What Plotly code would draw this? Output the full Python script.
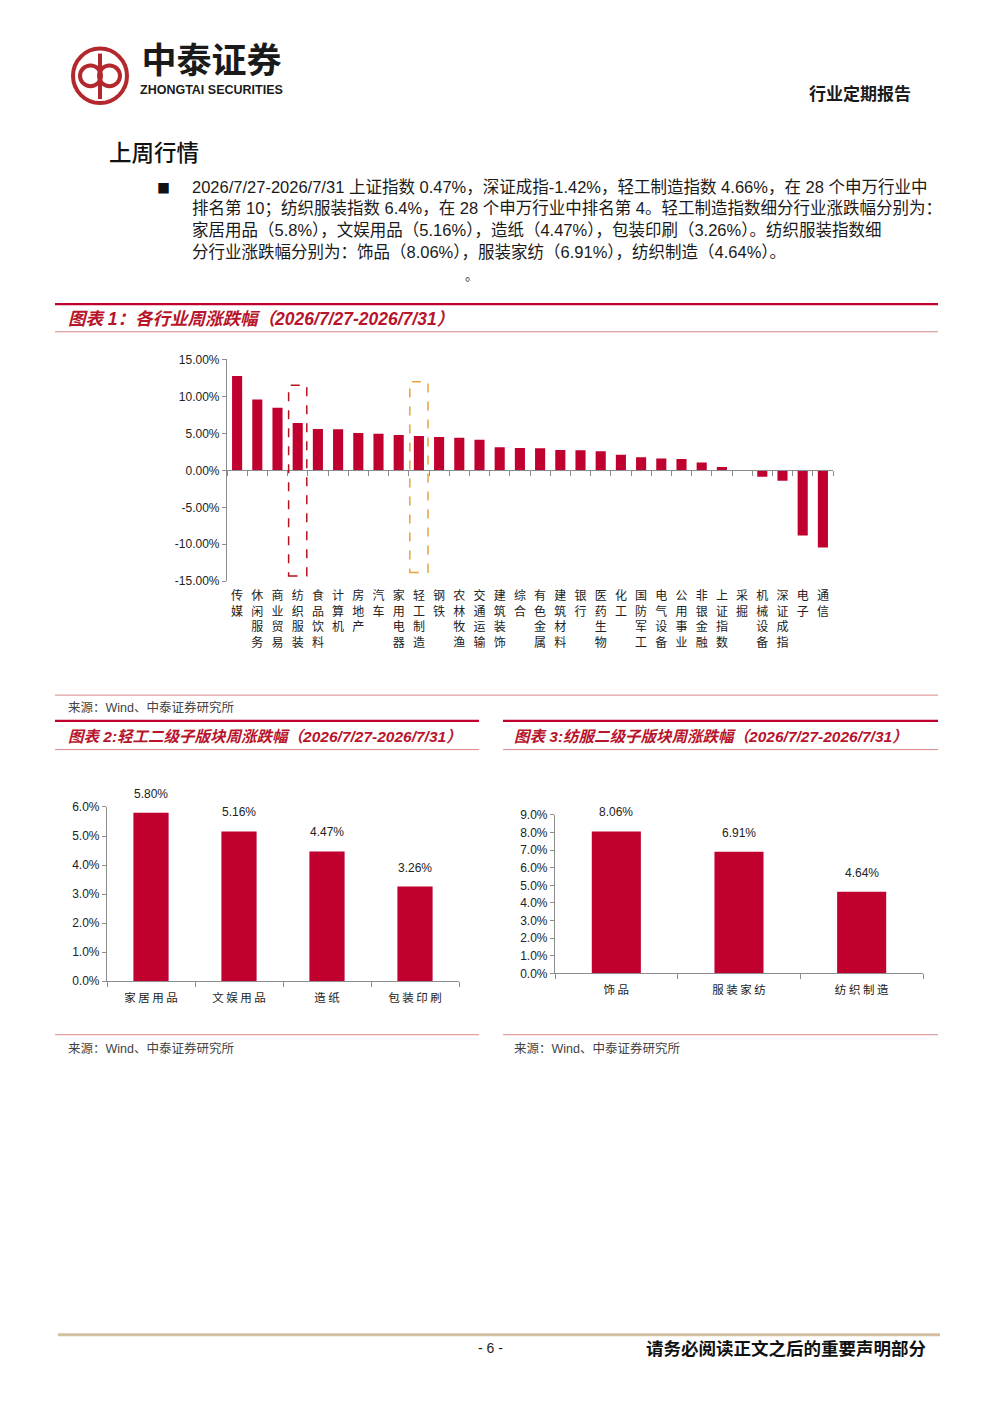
import plotly.graph_objects as go

W, H = 1000, 1413
def px(x):
    return x / W
def py(y):
    return 1 - y / H

# ---------------- data ----------------
industries = ["传媒", "休闲服务", "商业贸易", "纺织服装", "食品饮料", "计算机", "房地产", "汽车",
              "家用电器", "轻工制造", "钢铁", "农林牧渔", "交通运输", "建筑装饰", "综合", "有色金属",
              "建筑材料", "银行", "医药生物", "化工", "国防军工", "电气设备", "公用事业", "非银金融",
              "上证指数", "采掘", "机械设备", "深证成指", "电子", "通信"]
industry_change = [12.77, 9.60, 8.48, 6.40, 5.58, 5.56, 5.04, 4.96, 4.78, 4.66, 4.52, 4.42,
                   4.15, 3.13, 3.04, 3.00, 2.77, 2.72, 2.59, 2.10, 1.79, 1.60, 1.52, 1.07,
                   0.47, 0.00, -0.85, -1.42, -8.80, -10.45]
main_ticks = [-15, -10, -5, 0, 5, 10, 15]

light_sub = ["家居用品", "文娱用品", "造纸", "包装印刷"]
light_change = [5.80, 5.16, 4.47, 3.26]
light_ticks = [0, 1, 2, 3, 4, 5, 6]

textile_sub = ["饰品", "服装家纺", "纺织制造"]
textile_change = [8.06, 6.91, 4.64]
textile_ticks = [0, 1, 2, 3, 4, 5, 6, 7, 8, 9]

# highlight boxes: (category, top, bottom)
box_textile = ("纺织服装", 11.5, -14.3)
box_light = ("轻工制造", 12.0, -13.8)

body_lines = [
    "2026/7/27-2026/7/31 上证指数 0.47%，深证成指-1.42%，轻工制造指数 4.66%，在 28 个申万行业中",
    "排名第 10；纺织服装指数 6.4%，在 28 个申万行业中排名第 4。轻工制造指数细分行业涨跌幅分别为：",
    "家居用品（5.8%），文娱用品（5.16%），造纸（4.47%），包装印刷（3.26%）。纺织服装指数细",
    "分行业涨跌幅分别为：饰品（8.06%），服装家纺（6.91%），纺织制造（4.64%）。",
]

# ---------------- styles ----------------
FONT = "Liberation Sans, Noto Sans CJK SC, sans-serif"
CJK = "Noto Sans CJK SC, sans-serif"
BAR = "#C0002F"
AX = "#8C8C8C"
TXT = "#333333"
TITLE_RED = "#B8142B"

fig = go.Figure()

# main chart
fig.add_trace(go.Bar(x=industries, y=industry_change, xaxis="x", yaxis="y",
                     marker=dict(color=BAR, line=dict(width=0)), width=0.5,
                     showlegend=False, hoverinfo="x+y"))
fig.add_trace(go.Scatter(x=industries, y=industry_change, xaxis="x4", yaxis="y",
                         mode="markers", marker=dict(opacity=0), showlegend=False,
                         hoverinfo="skip"))
# chart 2
fig.add_trace(go.Bar(x=light_sub, y=light_change, xaxis="x2", yaxis="y2",
                     marker=dict(color=BAR, line=dict(width=0)), width=0.4,
                     showlegend=False))
# chart 3
fig.add_trace(go.Bar(x=textile_sub, y=textile_change, xaxis="x3", yaxis="y3",
                     marker=dict(color=BAR, line=dict(width=0)), width=0.4,
                     showlegend=False))

vert_labels = ["<br>".join(list(c)) for c in industries]

fig.update_layout(
    width=W, height=H, margin=dict(l=0, r=0, t=0, b=0),
    paper_bgcolor="white", plot_bgcolor="white",
    font=dict(family=FONT, color=TXT),
    showlegend=False,
    xaxis=dict(domain=[px(227), px(833)], anchor="y", type="category",
               categoryorder="array", categoryarray=industries,
               range=[-0.5, len(industries) - 0.5],
               tickvals=industries, ticktext=vert_labels, tickangle=0,
               ticks="", showline=False, showgrid=False, zeroline=False,
               tickfont=dict(family=CJK, size=12, color="#222"),
               ticklabelstandoff=6, fixedrange=True),
    xaxis4=dict(overlaying="x", anchor="free", position=py(468), type="category",
                categoryorder="array", categoryarray=industries,
                range=[-0.5, len(industries) - 0.5],
                showticklabels=False, ticks="outside", ticklen=5, tickcolor=AX,
                tickson="boundaries", showline=True, linecolor=AX, linewidth=1.2,
                showgrid=False, zeroline=False, fixedrange=True),
    yaxis=dict(domain=[py(580), py(356)], anchor="x", range=[-15, 15],
               tickvals=main_ticks, ticktext=["%.2f%%" % v for v in main_ticks],
               ticks="outside", ticklen=4, tickcolor=AX, showline=True,
               linecolor=AX, linewidth=1.2, showgrid=False, zeroline=False,
               tickfont=dict(size=12, color="#222"), fixedrange=True),
    xaxis2=dict(domain=[px(107), px(459)], anchor="y2", type="category",
                categoryorder="array", categoryarray=light_sub,
                tickvals=light_sub, ticktext=[" ".join(list(c)) for c in light_sub],
                ticks="outside", ticklen=5, tickcolor=AX, tickson="boundaries",
                showline=True, linecolor=AX, linewidth=1.2, showgrid=False,
                tickfont=dict(family=CJK, size=11.5, color="#222"),
                ticklabelstandoff=6, fixedrange=True),
    yaxis2=dict(domain=[py(984), py(808)], anchor="x2", range=[0, 6],
                tickvals=light_ticks, ticktext=["%.1f%%" % v for v in light_ticks],
                ticks="outside", ticklen=4, tickcolor=AX, showline=True,
                linecolor=AX, linewidth=1.2, showgrid=False, zeroline=False,
                tickfont=dict(size=12, color="#222"), fixedrange=True),
    xaxis3=dict(domain=[px(555), px(923)], anchor="y3", type="category",
                categoryorder="array", categoryarray=textile_sub,
                tickvals=textile_sub, ticktext=[" ".join(list(c)) for c in textile_sub],
                ticks="outside", ticklen=5, tickcolor=AX, tickson="boundaries",
                showline=True, linecolor=AX, linewidth=1.2, showgrid=False,
                tickfont=dict(family=CJK, size=11.5, color="#222"),
                ticklabelstandoff=6, fixedrange=True),
    yaxis3=dict(domain=[py(976), py(816)], anchor="x3", range=[0, 9],
                tickvals=textile_ticks, ticktext=["%.1f%%" % v for v in textile_ticks],
                ticks="outside", ticklen=4, tickcolor=AX, showline=True,
                linecolor=AX, linewidth=1.2, showgrid=False, zeroline=False,
                tickfont=dict(size=12, color="#222"), fixedrange=True),
)

shapes = []
annos = []

def hline(x0, x1, y, color, width):
    shapes.append(dict(type="line", xref="paper", yref="paper",
                       x0=px(x0), x1=px(x1), y0=py(y), y1=py(y),
                       line=dict(color=color, width=width)))

def text(x, y, s, size=12, color=TXT, family=FONT, xanchor="left", weight="normal",
         style="normal", yanchor="middle"):
    annos.append(dict(xref="paper", yref="paper", x=px(x), y=py(y), text=s,
                      showarrow=False, xanchor=xanchor, yanchor=yanchor,
                      font=dict(size=size, color=color, family=family, weight=weight,
                                style=style)))

# ---- logo ----
LOGO = "#B3282D"
shapes.append(dict(type="circle", xref="paper", yref="paper",
                   x0=px(73), x1=px(127), y0=py(97), y1=py(42),
                   line=dict(color=LOGO, width=4)))
shapes.append(dict(type="circle", xref="paper", yref="paper",
                   x0=px(80), x1=px(101), y0=py(80), y1=py(59),
                   line=dict(color=LOGO, width=4)))
shapes.append(dict(type="circle", xref="paper", yref="paper",
                   x0=px(99), x1=px(120), y0=py(80), y1=py(59),
                   line=dict(color=LOGO, width=4)))
shapes.append(dict(type="line", xref="paper", yref="paper",
                   x0=px(100), x1=px(100), y0=py(47), y1=py(93),
                   line=dict(color=LOGO, width=4)))
text(138, 63,
     "<b><span style='font-size:35px'>中泰证券</span></b><br>"
     "<b><span style='font-size:12.5px'>ZHONGTAI SECURITIES</span></b>",
     size=16.5, color="#1A1A1A", family=FONT)
text(913, 86, "行业定期报告", size=17, color="#1A1A1A", family=CJK, xanchor="right",
     weight="bold")

# ---- section heading & body ----
text(107, 145, "上周行情", size=22.5, color="#111", family=CJK, weight=500)
text(155, 182, "■", size=13, color="#111", family=CJK)
for i, line in enumerate(body_lines):
    text(190, 182 + i * 21.7, line, size=16.5, color="#1A1A1A")
text(463, 270, "。", size=13, color="#333", family=CJK)

# ---- chart 1 frame ----
hline(55, 938, 300, "#C0002F", 2.2)
text(66, 315, "图表 1：各行业周涨跌幅（2026/7/27-2026/7/31）", size=17.5, color=TITLE_RED,
     weight="bold", style="italic")
hline(55, 938, 328, "#D98A8A", 1)
hline(55, 938, 695, "#D98A8A", 1)
text(66, 708, "来源：Wind、中泰证券研究所", size=12.5, color="#444")

# highlight boxes
for (cat, top, bot), col in [(box_textile, "#B3121F"), (box_light, "#E8A23A")]:
    i = industries.index(cat)
    shapes.append(dict(type="rect", xref="x", yref="y", x0=i - 0.45, x1=i + 0.45,
                       y0=bot, y1=top, line=dict(color=col, width=1.5, dash="dash")))

# ---- chart 2 / 3 frames ----
hline(55, 479, 721, "#C0002F", 2.2)
hline(55, 479, 750, "#D98A8A", 1)
hline(503, 938, 721, "#C0002F", 2.2)
hline(503, 938, 750, "#D98A8A", 1)
text(66, 737, "图表 2:轻工二级子版块周涨跌幅（2026/7/27-2026/7/31）", size=15.5,
     color=TITLE_RED, weight="bold", style="italic")
text(512, 737, "图表 3:纺服二级子版块周涨跌幅（2026/7/27-2026/7/31）", size=15.5,
     color=TITLE_RED, weight="bold", style="italic")
hline(55, 479, 1038, "#D98A8A", 1)
hline(503, 938, 1038, "#D98A8A", 1)
text(66, 1052, "来源：Wind、中泰证券研究所", size=12.5, color="#444")
text(512, 1052, "来源：Wind、中泰证券研究所", size=12.5, color="#444")

# data labels for small charts
for xs, ys, xr, yr in [(light_sub, light_change, "x2", "y2"),
                       (textile_sub, textile_change, "x3", "y3")]:
    for c, v in zip(xs, ys):
        annos.append(dict(xref=xr, yref=yr, x=c, y=v, text="%.2f%%" % v,
                          showarrow=False, yanchor="bottom", yshift=10,
                          font=dict(size=12, color="#222", family=FONT)))

# ---- footer ----
hline(58, 940, 1341, "#D6C0A4", 3)
text(490, 1354, "- 6 -", size=14, color="#222", xanchor="center")
text(928, 1354, "请务必阅读正文之后的重要声明部分", size=17.5, color="#111", family=CJK,
     xanchor="right", weight="bold")

fig.update_layout(shapes=shapes, annotations=annos)
fig.write_html("out.html", config={"displayModeBar": False},
               post_script="document.body.style.margin='0px';")
